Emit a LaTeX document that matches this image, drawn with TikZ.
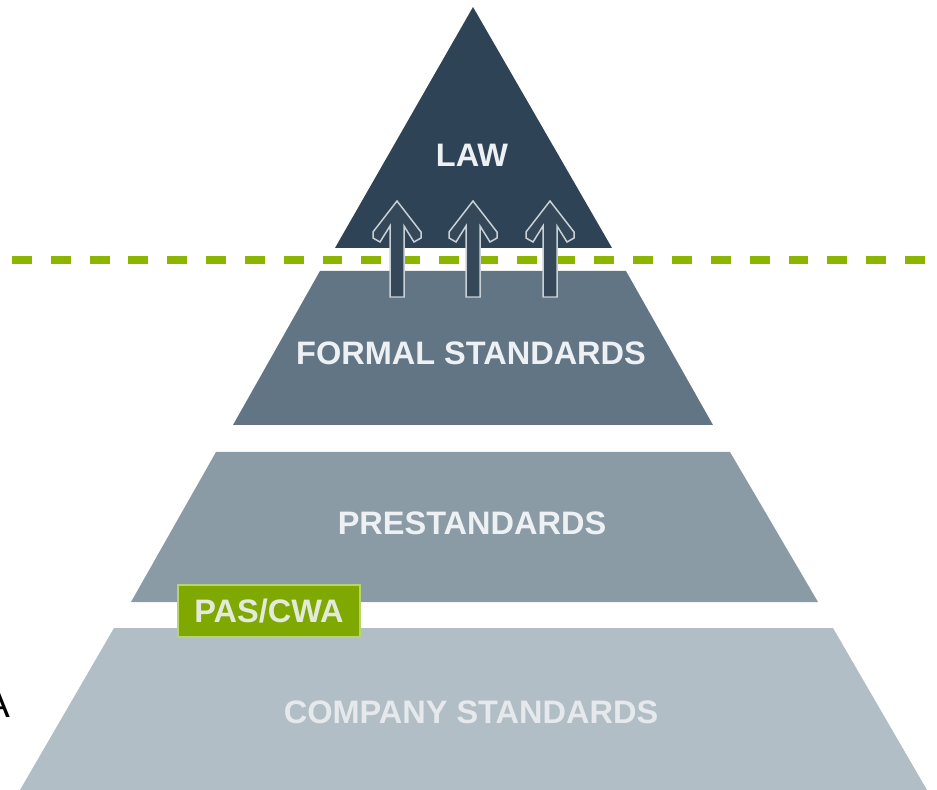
\documentclass[tikz,border=0pt]{standalone}
\usepackage{fontspec}
\setmainfont{Liberation Sans}
\usetikzlibrary{positioning}

\definecolor{lawc}{HTML}{2E4355}
\definecolor{formalc}{HTML}{627585}
\definecolor{prec}{HTML}{8A9BA6}
\definecolor{compc}{HTML}{B2BEC6}
\definecolor{linec}{HTML}{8CB500}
\definecolor{pasc}{HTML}{7FA800}
\definecolor{pasedge}{HTML}{B8D46E}
\definecolor{arrowc}{HTML}{34485A}
\definecolor{arrowedge}{HTML}{C9D0D6}
\definecolor{labc}{HTML}{EEF1F3}

\begin{document}
\begin{tikzpicture}
[
	x=0.02cm, y=-0.02cm,
	lab/.style={text=labc,font=\fontsize{18.5}{20}\selectfont\bfseries,inner sep=0},
	up/.style={fill=arrowc,draw=arrowedge,line width=0.85pt,line join=miter}
]

\useasboundingbox (0,0) rectangle (937,790);

\fill[lawc]	(473,7) -- (612,248) -- (335,248) -- cycle;
\fill[formalc]	(320,271) -- (626,271) -- (713,425) -- (233,425) -- cycle;
\fill[prec]	(216,452) -- (730,452) -- (818,602) -- (131,602) -- cycle;
\fill[compc]	(114,628) -- (833,628) -- (927,790) -- (20,790) -- cycle;

\coordinate (d1) at (12,260);
\coordinate (d2) at (937,260);
\draw[linec,line width=4pt,dash pattern=on 11.3pt off 10.8pt] (d1) -- (d2);

\draw[up,shift={(397,297)}] (-7,0) -- (-7,-71) -- (-17,-55) -- (-24,-59) -- (-24,-65) -- (0,-96) -- (24,-65) -- (24,-59) -- (17,-55) -- (7,-71) -- (7,0) -- cycle;
\draw[up,shift={(473,297)}] (-7,0) -- (-7,-71) -- (-17,-55) -- (-24,-59) -- (-24,-65) -- (0,-96) -- (24,-65) -- (24,-59) -- (17,-55) -- (7,-71) -- (7,0) -- cycle;
\draw[up,shift={(550,297)}] (-7,0) -- (-7,-71) -- (-17,-55) -- (-24,-59) -- (-24,-65) -- (0,-96) -- (24,-65) -- (24,-59) -- (17,-55) -- (7,-71) -- (7,0) -- cycle;

\node[lab] (law) at (472,155) {LAW};
\node[lab] (formal) at (471,353) {FORMAL STANDARDS};
\node[lab] (pre) at (472,523) {PRESTANDARDS};
\node[lab,text=labc!85!compc] (comp) at (471,712) {COMPANY STANDARDS};

\node[lab,fill=pasc,draw=pasedge,line width=0.6pt,minimum width=3.64cm,minimum height=1.04cm,text=labc!90!pasc] (pas) at (269,611) {PAS/CWA};

\node[font=\fontsize{22}{24}\selectfont,inner sep=0] (a) at (-3,704) {A};

\end{tikzpicture}
\end{document}
